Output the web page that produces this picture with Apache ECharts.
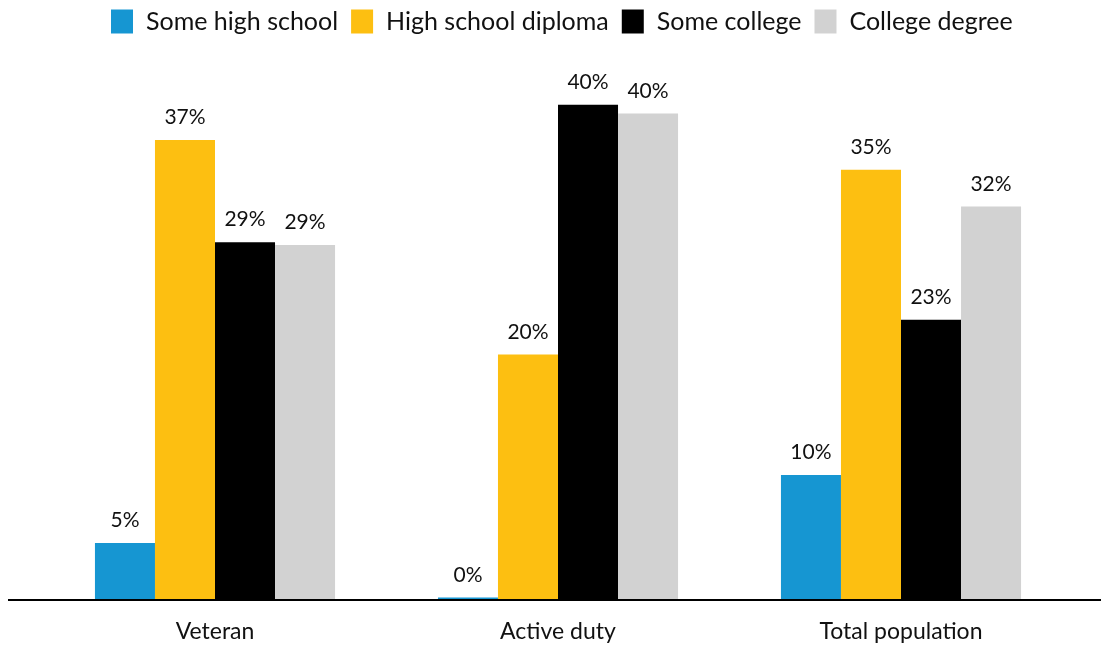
<!DOCTYPE html>
<html>
<head>
<meta charset="utf-8">
<script src="https://cdn.jsdelivr.net/npm/echarts@6/dist/echarts.min.js"></script>
<style>
  html, body { margin: 0; padding: 0; background: #fff; }
  #chart { width: 1101px; height: 650px; }
</style>
</head>
<body>
<div id="chart"></div>
<script>
// Educational attainment by group (share of each group, %)
const categories = ['Veteran', 'Active duty', 'Total population'];
const seriesNames = ['Some high school', 'High school diploma', 'Some college', 'College degree'];
const someHighSchool = [4.57, 0.12, 10.11];
const highSchoolDiploma = [37.41, 19.93, 34.99];
const someCollege = [29.09, 40.29, 22.76];
const collegeDegree = [28.85, 39.58, 32.0];
const colors = ['#1696d2', '#fdbf11', '#000000', '#d2d2d2'];

const values = [someHighSchool, highSchoolDiploma, someCollege, collegeDegree];
const FONT = 'Lato, "DejaVu Sans", sans-serif';
const TEXT = '#111';

const chart = echarts.init(document.getElementById('chart'), null, { renderer: 'canvas' });

const gridLeft = 43.5, gridTop = 47, gridBottom = 51;

chart.setOption({
  animation: false,
  textStyle: { fontFamily: FONT },
  legend: {
    top: 4,
    left: 106,
    itemWidth: 22,
    itemHeight: 24,
    itemGap: 13,
    icon: 'rect',
    data: seriesNames,
    textStyle: { fontFamily: FONT, fontSize: 25, color: TEXT, padding: [0, 0, 0, 8] }
  },
  grid: { left: gridLeft, right: 28.5, top: gridTop, bottom: gridBottom, containLabel: false },
  xAxis: {
    type: 'category',
    data: categories,
    axisLine: { show: false },
    axisTick: { show: false },
    axisLabel: { fontFamily: FONT, fontSize: 23, color: TEXT, margin: 21 }
  },
  yAxis: {
    type: 'value',
    min: 0,
    max: 45,
    show: false,
    splitLine: { show: false }
  },
  series: values.map((arr, i) => ({
    name: seriesNames[i],
    type: 'bar',
    data: arr,
    barGap: '0%',
    barCategoryGap: '30%',
    itemStyle: { color: colors[i] },
    label: {
      show: true,
      position: 'top',
      distance: 12,
      fontFamily: FONT,
      fontSize: 21,
      color: TEXT,
      formatter: p => Math.round(p.value) + '%'
    }
  })),
  graphic: [{
    type: 'line',
    shape: { x1: 8, y1: 600, x2: 1101, y2: 600 },
    style: { stroke: '#000', lineWidth: 2 },
    z: 100
  }]
});
</script>
</body>
</html>
